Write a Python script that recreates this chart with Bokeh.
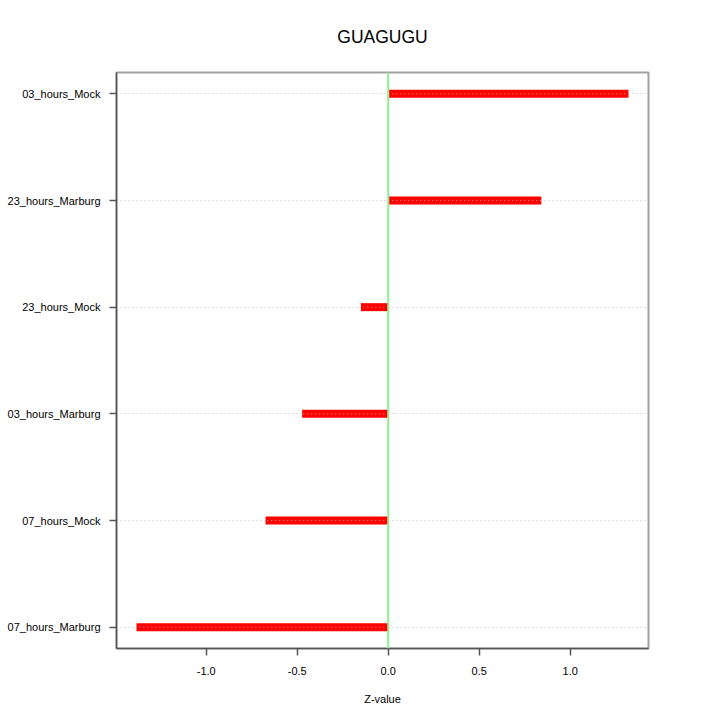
from bokeh.plotting import figure
from bokeh.models import FixedTicker, Range1d, Span, Title
from bokeh.embed import file_html
from bokeh.resources import INLINE

# data (bottom to top)
categories = ["07_hours_Marburg", "07_hours_Mock", "03_hours_Marburg",
              "23_hours_Mock", "23_hours_Marburg", "03_hours_Mock"]
zvalues = [-1.383, -0.674, -0.473, -0.150, 0.841, 1.320]
x_ticks = [-1.0, -0.5, 0.0, 0.5, 1.0]
x_tick_labels = ["-1.0", "-0.5", "0.0", "0.5", "1.0"]
title_text = "GUAGUGU"
x_label = "Z-value"

ypos = list(range(1, len(categories) + 1))
zeros = [0.0] * len(categories)

FONT = "Liberation Sans"

p = figure(width=704, height=704, output_backend="svg", toolbar_location=None,
           x_range=Range1d(-1.493, 1.430), y_range=Range1d(0.8, 6.2),
           min_border_left=116, min_border_right=56, min_border_top=72,
           min_border_bottom=56)
p.frame_width = 532
p.frame_height = 576

p.background_fill_color = "white"
p.border_fill_color = "white"
p.outline_line_color = "#a0a0a0"
p.outline_line_width = 2

# grid
p.xgrid.grid_line_color = None
p.ygrid.ticker = FixedTicker(ticks=ypos)
p.ygrid.grid_line_color = "#c0c0c0"
p.ygrid.grid_line_dash = "1 3"
p.ygrid.grid_line_width = 1

# axes
p.xaxis.ticker = FixedTicker(ticks=x_ticks)
p.xaxis.major_label_overrides = {t: l for t, l in zip(x_ticks, x_tick_labels)}
p.yaxis.ticker = FixedTicker(ticks=ypos)
p.yaxis.major_label_overrides = {y: c for y, c in zip(ypos, categories)}
for ax in (p.xaxis[0], p.yaxis[0]):
    ax.axis_line_color = "#555555"
    ax.axis_line_width = 1.5
    ax.major_tick_line_color = "#555555"
    ax.major_tick_line_width = 1.5
    ax.major_tick_out = 7
    ax.major_tick_in = 0
    ax.minor_tick_line_color = None
    ax.major_label_text_font = FONT
    ax.major_label_text_font_size = "11px"
    ax.major_label_text_color = "black"
p.xaxis.major_label_standoff = 11
p.yaxis.major_label_standoff = 9
p.xaxis.axis_label = x_label
p.xaxis.axis_label_text_font = FONT
p.xaxis.axis_label_text_font_size = "11px"
p.xaxis.axis_label_text_font_style = "normal"
p.xaxis.axis_label_text_color = "black"
p.xaxis.axis_label_standoff = 15

# zero line
p.add_layout(Span(location=0, dimension="height", line_color="#90ee90", line_width=2))

# bars
p.segment(x0=zeros, y0=ypos, x1=zvalues, y1=ypos, line_color="#ff0000",
          line_width=8, line_cap="butt")
p.segment(x0=zeros, y0=ypos, x1=zvalues, y1=ypos, line_color="#ff9a9a",
          line_width=1, line_dash="1 3", line_cap="butt")

# title
p.add_layout(Title(text=title_text, text_font=FONT, text_font_size="17.5px",
                   text_font_style="normal", text_color="black", align="center",
                   vertical_align="top", standoff=48), "above")

open("out.html", "w").write(file_html(p, INLINE))
